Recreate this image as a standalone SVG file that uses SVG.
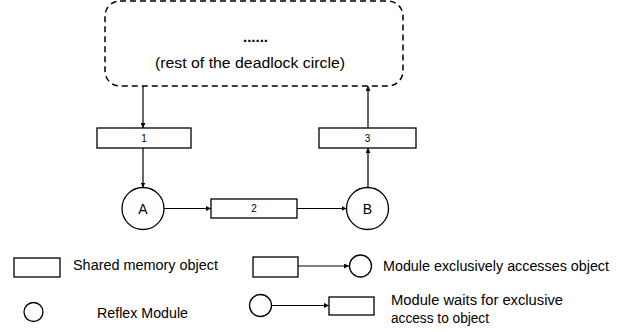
<svg xmlns="http://www.w3.org/2000/svg" width="634" height="332" viewBox="0 0 634 332">
  <defs>
    <marker id="arrow" viewBox="0 0 10 10" refX="10" refY="5" markerWidth="5" markerHeight="5" orient="auto" markerUnits="userSpaceOnUse">
      <path d="M0,0 L10,5 L0,10 z" fill="#000"/>
    </marker>
    <style>
      .shape { fill: #fff; stroke: #000; stroke-width: 1.3; }
      .dashed { fill: #fff; stroke: #000; stroke-width: 1.5; stroke-dasharray: 6 4; }
      .edge { fill: none; stroke: #000; stroke-width: 1.2; marker-end: url(#arrow); }
      text { font-family: "Liberation Sans", Arial, sans-serif; fill: #000; }
      .lbl { font-size: 14px; }
      .num { font-size: 10px; text-anchor: middle; }
      .mod { font-size: 14px; text-anchor: middle; }
    </style>
  </defs>

  <!-- rest of the cycle -->
  <g id="cycle-rest">
    <rect class="dashed" x="105" y="1" width="298" height="85" rx="15" ry="15"/>
    <text x="255.5" y="42" font-size="15" font-weight="bold" text-anchor="middle">......</text>
    <text x="250" y="67.5" font-size="15.5" text-anchor="middle" textLength="190" lengthAdjust="spacingAndGlyphs">(rest of the deadlock circle)</text>
  </g>

  <!-- shared memory objects -->
  <g id="obj1">
    <rect class="shape" x="97" y="128" width="94" height="20"/>
    <text class="num" x="144" y="142">1</text>
  </g>
  <g id="obj2">
    <rect class="shape" x="211" y="199" width="86" height="19"/>
    <text class="num" x="254" y="212">2</text>
  </g>
  <g id="obj3">
    <rect class="shape" x="319" y="128" width="97" height="20"/>
    <text class="num" x="367.5" y="142">3</text>
  </g>

  <!-- modules -->
  <g id="modA">
    <circle class="shape" cx="143" cy="208.5" r="21"/>
    <text class="mod" x="143" y="213.5">A</text>
  </g>
  <g id="modB">
    <circle class="shape" cx="367.5" cy="208.5" r="21"/>
    <text class="mod" x="367.5" y="213.5">B</text>
  </g>

  <!-- connectors -->
  <g id="edges">
    <line class="edge" x1="143" y1="86" x2="143" y2="128"/>
    <line class="edge" x1="143" y1="148" x2="143" y2="187.5"/>
    <line class="edge" x1="164" y1="208.5" x2="211" y2="208.5"/>
    <line class="edge" x1="297" y1="208.5" x2="346.5" y2="208.5"/>
    <line class="edge" x1="368" y1="187.5" x2="368" y2="148"/>
    <line class="edge" x1="368" y1="128" x2="368" y2="86"/>
  </g>

  <!-- legend -->
  <g id="legend-object">
    <rect class="shape" x="14" y="258" width="46" height="19"/>
    <text class="lbl" x="73" y="269.5" textLength="145" lengthAdjust="spacingAndGlyphs">Shared memory object</text>
  </g>
  <g id="legend-module">
    <circle class="shape" cx="33.5" cy="312" r="9.5"/>
    <text class="lbl" x="97" y="317.5" textLength="91" lengthAdjust="spacingAndGlyphs">Reflex Module</text>
  </g>
  <g id="legend-access">
    <rect class="shape" x="253" y="257" width="45" height="20"/>
    <line class="edge" x1="298" y1="266" x2="349" y2="266"/>
    <circle class="shape" cx="360.5" cy="266" r="11"/>
    <text class="lbl" x="383" y="270.5" textLength="226" lengthAdjust="spacingAndGlyphs">Module exclusively accesses object</text>
  </g>
  <g id="legend-wait">
    <circle class="shape" cx="260.5" cy="305.5" r="11"/>
    <line class="edge" x1="271.5" y1="305.5" x2="329" y2="305.5"/>
    <rect class="shape" x="329" y="297" width="45" height="18"/>
    <text class="lbl" x="391" y="304.5" textLength="172" lengthAdjust="spacingAndGlyphs">Module waits for exclusive</text>
    <text class="lbl" x="391" y="322.5" textLength="98" lengthAdjust="spacingAndGlyphs">access to object</text>
  </g>
</svg>
